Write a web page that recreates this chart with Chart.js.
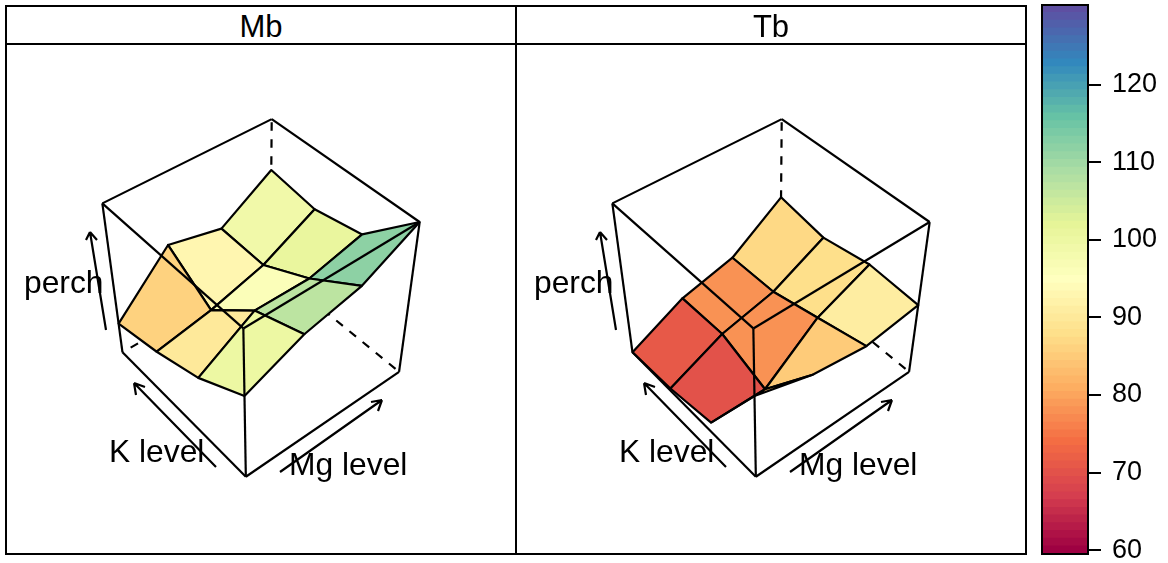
<!DOCTYPE html>
<html>
<head>
<meta charset="utf-8">
<title>perch surface</title>
<script src="https://cdn.jsdelivr.net/npm/chart.js@4"></script>
<style>
  html, body { margin: 0; background: #fff; }
  body { width: 1168px; height: 563px; position: relative; overflow: hidden; font-family: "Liberation Sans", sans-serif; color: #000; }
  .panel { position: absolute; top: 5px; width: 508px; height: 546px; border: 2px solid #000; box-sizing: content-box; }
  .strip { position: absolute; left: 0; right: 0; top: 0; height: 36px; border-bottom: 2px solid #000; text-align: center; font-size: 31px; line-height: 40px; }
  .panel canvas { position: absolute; left: -1px; top: 37px; }
  #key-box { position: absolute; left: 1030px; top: 0; }
</style>
</head>
<body>
<div class="panel" style="left:5px"><div class="strip" id="strip-mb"></div><canvas id="chart-mb" width="510" height="510"></canvas></div>
<div class="panel" style="left:515px"><div class="strip" id="strip-tb"></div><canvas id="chart-tb" width="510" height="510"></canvas></div>
<canvas id="key-box" width="138" height="563"></canvas>
<script>
// Data
const panelNames = ['Mb', 'Tb'];
const kLevels = [1, 2, 3, 4];
const mgLevels = [1, 2, 3, 4];
// perch, one row per K level, one value per Mg level
const perchMb = [
  [100.5, 111.4, 117.1, 130.0],
  [87.6, 103.0, 102.7, 108.7],
  [79.9, 84.6, 91.7, 104.4],
  [74.6, 98.4, 92.7, 107.6]
];
const perchTb = [
  [100.5, 92.7, 89.5, 93.3],
  [64.6, 64.0, 84.0, 94.8],
  [60.7, 72.5, 78.5, 91.0],
  [59.4, 72.1, 78.3, 94.8]
];
const keyTicks = [60, 70, 80, 90, 100, 110, 120];
const perchMin = 59.4;
const perchMax = 130;
const keyMin = 59.5;
const keyMax = 130.3;

const spectral = ['#9E0142', '#D53E4F', '#F46D43', '#FDAE61', '#FEE08B', '#FFFFBF', '#E6F598', '#ABDDA4', '#66C2A5', '#3288BD', '#5E4FA2'];
const keyBands = 71;
// Facets in the picture sit a bit closer to the middle of the ramp than their mean height
const facetSpread = 0.85;
const wireWidth = 2.2;

// View of the unit box (x = Mg, y = K, z = perch, all -1..1) onto the panel
const view = [
  [91.8345, -52.9524, -17.9011, 259.179],
  [-34.4603, -40.7088, -94.3891, 292.393],
  [0.0441111, 0.0555686, -0.0685998, 1]
];

function project(x, y, z) {
  const w = view[2][0] * x + view[2][1] * y + view[2][2] * z + view[2][3];
  return {
    x: (view[0][0] * x + view[0][1] * y + view[0][2] * z + view[0][3]) / w,
    y: (view[1][0] * x + view[1][1] * y + view[1][2] * z + view[1][3]) / w
  };
}

function unit(v, lo, hi) {
  return -1 + 2 * (v - lo) / (hi - lo);
}

function surfacePoint(perch, k, m) {
  return project(
    unit(mgLevels[m], mgLevels[0], mgLevels[mgLevels.length - 1]),
    unit(kLevels[k], kLevels[0], kLevels[kLevels.length - 1]),
    unit(perch[k][m], perchMin, perchMax)
  );
}

// Colour ramp, cut in the same bands as the colour key
function rampColor(t) {
  const pos = Math.min(Math.max(t, 0), 1) * (spectral.length - 1);
  const i = Math.min(Math.floor(pos), spectral.length - 2);
  const f = pos - i;
  const a = parseInt(spectral[i].slice(1), 16);
  const b = parseInt(spectral[i + 1].slice(1), 16);
  const mix = shift => Math.round(((a >> shift) & 255) * (1 - f) + ((b >> shift) & 255) * f);
  return `rgb(${mix(16)}, ${mix(8)}, ${mix(0)})`;
}

function bandColor(value) {
  const mid = (perchMin + perchMax) / 2;
  const t = (mid + (value - mid) * facetSpread - perchMin) / (perchMax - perchMin);
  const band = Math.min(Math.floor(t * keyBands), keyBands - 1);
  return rampColor(band / (keyBands - 1));
}

function edge(a, b, dashed) {
  return {
    data: [project(a[0], a[1], a[2]), project(b[0], b[1], b[2])],
    showLine: true, pointRadius: 0, borderColor: '#000', borderWidth: wireWidth,
    borderDash: dashed ? [8.5, 8.5] : [], borderCapStyle: 'butt'
  };
}

// Back of the box goes first, then the surface from far to near, then the front of the box
function buildDatasets(perch) {
  const list = [
    edge([1, 1, -1], [1, 1, 1], true),
    edge([1, 1, -1], [-1, 1, -1], true),
    edge([1, 1, -1], [1, -1, -1], true),
    edge([-1, 1, 1], [1, 1, 1]),
    edge([1, 1, 1], [1, -1, 1]),
    edge([-1, 1, -1], [-1, 1, 1]),
    edge([1, -1, -1], [1, -1, 1])
  ];
  for (let k = kLevels.length - 2; k >= 0; k--) {
    for (let m = mgLevels.length - 2; m >= 0; m--) {
      const mean = (perch[k][m] + perch[k + 1][m] + perch[k + 1][m + 1] + perch[k][m + 1]) / 4;
      const start = surfacePoint(perch, k, m);
      list.push({
        data: [start, surfacePoint(perch, k + 1, m), surfacePoint(perch, k + 1, m + 1), surfacePoint(perch, k, m + 1), start],
        showLine: true, pointRadius: 0, borderColor: '#000', borderWidth: wireWidth,
        borderJoinStyle: 'round', quadColor: bandColor(mean)
      });
    }
  }
  list.push(
    edge([-1, -1, -1], [-1, -1, 1]),
    edge([-1, -1, 1], [-1, 1, 1]),
    edge([-1, -1, 1], [1, -1, 1]),
    edge([-1, -1, -1], [-1, 1, -1]),
    edge([-1, -1, -1], [1, -1, -1])
  );
  // Chart.js paints the first dataset last
  return list.reverse();
}

const quadFill = {
  id: 'quadFill',
  beforeDatasetDraw(chart, args) {
    const color = chart.data.datasets[args.index].quadColor;
    if (!color) return;
    const ctx = chart.ctx;
    ctx.save();
    ctx.beginPath();
    args.meta.data.forEach((p, i) => {
      if (i === 0) ctx.moveTo(p.x, p.y); else ctx.lineTo(p.x, p.y);
    });
    ctx.closePath();
    ctx.fillStyle = color;
    ctx.fill();
    ctx.restore();
  }
};

// Axis arrows and their labels, same place in both panels
const axisArrows = [
  { tail: [216, 467], tip: [134, 383], barbs: [[145, 387], [136, 395]] },
  { tail: [280, 472], tip: [382, 400], barbs: [[371, 402], [378, 411]] },
  { tail: [106, 330], tip: [90, 232], barbs: [[86, 240], [97, 240]] }
];
const axisLabels = [
  { text: 'perch', x: 24, y: 293 },
  { text: 'K level', x: 109, y: 462 },
  { text: 'Mg level', x: 289, y: 475 }
];

const axisNotes = {
  id: 'axisNotes',
  afterDatasetsDraw(chart) {
    const ctx = chart.ctx;
    const px = p => [chart.scales.x.getPixelForValue(p[0]), chart.scales.y.getPixelForValue(p[1])];
    ctx.save();
    ctx.strokeStyle = '#000';
    ctx.fillStyle = '#000';
    ctx.lineWidth = wireWidth;
    axisArrows.forEach(a => {
      ctx.beginPath();
      ctx.moveTo(...px(a.tail));
      ctx.lineTo(...px(a.tip));
      a.barbs.forEach(b => {
        ctx.moveTo(...px(b));
        ctx.lineTo(...px(a.tip));
      });
      ctx.stroke();
    });
    ctx.font = '31.8px "Liberation Sans"';
    ctx.textBaseline = 'alphabetic';
    axisLabels.forEach(l => {
      const [x, y] = px([l.x, l.y]);
      ctx.fillText(l.text, x, y);
    });
    ctx.restore();
  }
};

function drawPanel(canvasId, perch) {
  new Chart(document.getElementById(canvasId), {
    type: 'scatter',
    data: { datasets: buildDatasets(perch) },
    options: {
      responsive: false,
      animation: false,
      clip: false,
      layout: { padding: 0 },
      plugins: { legend: { display: false }, tooltip: { enabled: false } },
      scales: {
        x: { type: 'linear', display: false, min: 6, max: 516 },
        y: { type: 'linear', display: false, min: 44, max: 554, reverse: true }
      }
    },
    plugins: [quadFill, axisNotes]
  });
}

function drawKey() {
  const datasets = [];
  for (let i = 0; i < keyBands; i++) {
    const lo = keyMin + (keyMax - keyMin) * i / keyBands;
    const hi = keyMin + (keyMax - keyMin) * (i + 1) / keyBands;
    datasets.push({
      data: [[lo, Math.min(hi + 0.05, keyMax)]],
      backgroundColor: rampColor(i / (keyBands - 1)),
      borderWidth: 0, barPercentage: 1, categoryPercentage: 1, grouped: false
    });
  }
  new Chart(document.getElementById('key-box'), {
    type: 'bar',
    data: { labels: ['perch'], datasets: datasets },
    options: {
      responsive: false,
      animation: false,
      layout: { padding: { left: 12, top: 5, bottom: 9, right: 0 } },
      plugins: { legend: { display: false }, tooltip: { enabled: false } },
      scales: {
        x: { display: false },
        y: {
          position: 'right',
          min: keyMin,
          max: keyMax,
          afterBuildTicks: axis => { axis.ticks = keyTicks.map(v => ({ value: v })); },
          afterFit: axis => {
            axis.width = 80;
            axis.paddingTop = 0;
            axis.paddingBottom = 0;
          },
          border: { display: false },
          grid: { drawOnChartArea: false, drawTicks: true, tickLength: 13, color: '#000', lineWidth: 2 },
          ticks: { color: '#000', padding: 11, font: { family: 'Liberation Sans', size: 27 } }
        }
      }
    },
    plugins: [{
      id: 'keyFrame',
      afterDraw(chart) {
        const a = chart.chartArea;
        chart.ctx.save();
        chart.ctx.strokeStyle = '#000';
        chart.ctx.lineWidth = 2;
        chart.ctx.strokeRect(a.left, a.top, a.right - a.left, a.bottom - a.top);
        chart.ctx.restore();
      }
    }]
  });
}

document.getElementById('strip-mb').textContent = panelNames[0];
document.getElementById('strip-tb').textContent = panelNames[1];
drawPanel('chart-mb', perchMb);
drawPanel('chart-tb', perchTb);
drawKey();
</script>
</body>
</html>
